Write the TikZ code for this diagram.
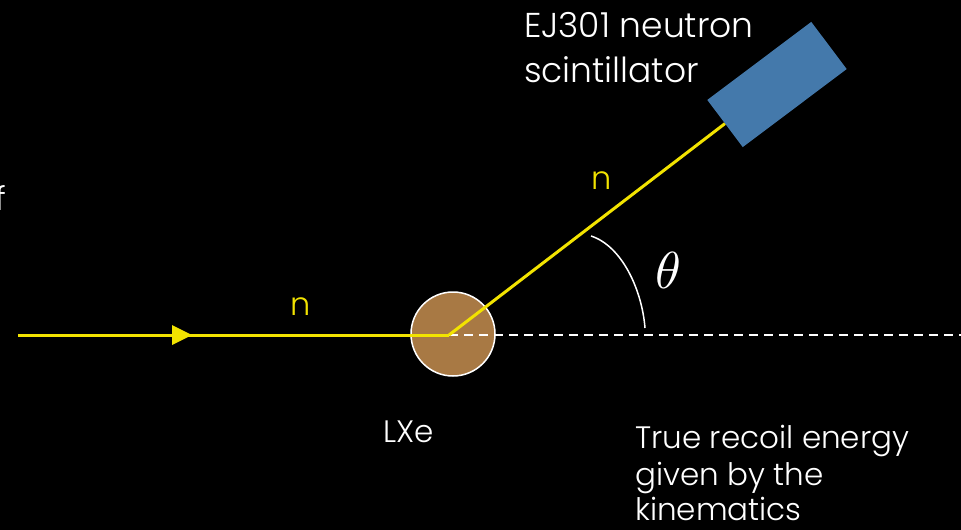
\documentclass[tikz,border=0pt]{standalone}
\usepackage{fontspec}
\setmainfont{Poppins Light}[UprightFont=*]
\definecolor{nyellow}{HTML}{F2E300}
\definecolor{lxe}{HTML}{A87944}
\definecolor{detblue}{HTML}{4479AB}
\tikzset{
  lbl/.style={text=white, anchor=base west, inner sep=0pt, font=\fontsize{31}{36}\selectfont},
  biglbl/.style={lbl, font=\fontsize{34.5}{40}\selectfont},
  nlbl/.style={text=nyellow, anchor=base west, inner sep=0pt, font=\fontsize{32}{36}\selectfont},
  beam/.style={draw=nyellow, line width=3pt},
}
\begin{document}
\begin{tikzpicture}[x=1pt,y=-1pt]
\useasboundingbox (0,0) rectangle (961,530);
\fill[black] (0,0) rectangle (961,530);
% coordinates
\coordinate (start) at (18,335);
\coordinate (hit) at (449,335);
\coordinate (dend) at (961,335);
\coordinate (arrtip) at (192,335);
% dashed reference line
\draw[white, line width=1.5pt, dash pattern=on 9pt off 6pt] (hit) -- (dend);
% LXe target
\node (lxe) [circle, fill=lxe, draw=white, line width=1.5pt, minimum size=84pt, inner sep=0pt] at (453,334) {};
\draw[white, line width=1.5pt, dash pattern=on 9pt off 6pt] (hit) -- (496,335);
% detector
\node (det) [draw=none, fill=detblue, minimum width=130pt, minimum height=59pt, inner sep=0pt, rotate=36.9] at (777,84.5) {};
% beams
\draw[beam] (start) -- (hit);
\fill[nyellow] (arrtip) -- (172,325) -- (172,345) -- cycle;
\draw[beam] (hit) -- (det.west);
% angle arc
\coordinate (a1) at (591,236);
\coordinate (a2) at (645,328);
\draw[white, line width=1.5pt] (a1) .. controls (622,246) and (642,290) .. (a2);
\node (theta) [text=white, inner sep=0pt] at (668,270) {\scalebox{5.2}{$\theta$}};
% labels
\node (n1) [nlbl] at (290,315) {n};
\node (n2) [nlbl] at (591,189) {n};
\node (f) [lbl, font=\fontsize{33}{36}\selectfont] at (-5,210) {f};
\node (ej1) [biglbl] at (524,37) {EJ301 neutron};
\node (ej2) [biglbl] at (524,82) {scintillator};
\node (lxet) [lbl] at (383,442) {LXe};
\node (t1) [lbl] at (635,448) {True recoil energy};
\node (t2) [lbl] at (635,485) {given by the};
\node (t3) [lbl] at (635,520) {kinematics};
\end{tikzpicture}
\end{document}
